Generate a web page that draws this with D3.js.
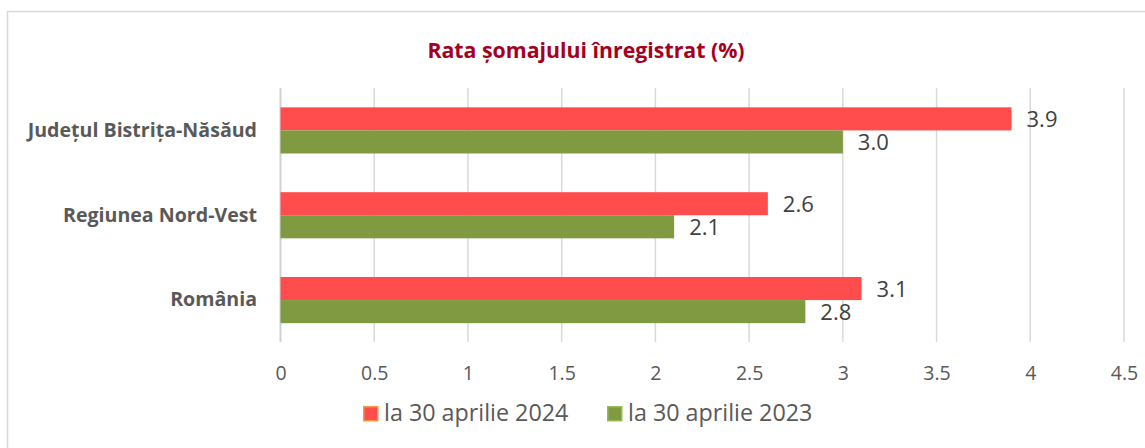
<!DOCTYPE html>
<html><head><meta charset="utf-8">
<script src="https://cdn.jsdelivr.net/npm/d3@7"></script>
<style>body{margin:0;background:#fff;} svg{display:block;font-family:"Open Sans",sans-serif;}</style>
</head><body>
<script>
const categories = ["Județul Bistrița-Năsăud", "Regiunea Nord-Vest", "România"];
const series2024 = [3.9, 2.6, 3.1];
const series2023 = [3.0, 2.1, 2.8];
const seriesNames = ["la 30 aprilie 2024", "la 30 aprilie 2023"];
const tickValues = [0, 0.5, 1, 1.5, 2, 2.5, 3, 3.5, 4, 4.5];
const title = "Rata șomajului înregistrat (%)";

const W = 1145, H = 448;
const colors = ["#FF4D4D", "#7F9A41"];
const strokes = ["#F79646", "#9BBB59"];

const svg = d3.select("body").append("svg").attr("width", W).attr("height", H);

svg.append("rect").attr("x", 7.5).attr("y", 11.5).attr("width", W + 10).attr("height", H + 10)
  .attr("fill", "none").attr("stroke", "#D9D9D9").attr("stroke-width", 1.5);

svg.append("text").attr("x", 586).attr("y", 58).attr("text-anchor", "middle")
  .attr("font-size", 21.3).attr("font-weight", "bold").attr("fill", "#A50021").text(title);

const x = d3.scaleLinear().domain([0, 4.5]).range([280.5, 1124]);
const y = d3.scaleBand().domain(categories).range([88, 342.5]).paddingInner(0.456).paddingOuter(0.228);

// gridlines
svg.append("g").selectAll("line").data(tickValues).join("line")
  .attr("x1", d => x(d)).attr("x2", d => x(d)).attr("y1", 88).attr("y2", 342)
  .attr("stroke", d => d === 0 ? "#D0D0D0" : "#D9D9D9").attr("stroke-width", d => d === 0 ? 2 : 1.5);

// x axis labels
const xAxis = d3.axisBottom(x).tickValues(tickValues).tickSize(0).tickFormat(d3.format("~g"));
const gx = svg.append("g").attr("transform", "translate(0,363)").call(xAxis);
gx.select(".domain").remove();
gx.selectAll("text").attr("font-size", 19.5).attr("fill", "#595959").attr("font-family", "Open Sans, sans-serif");

// y axis labels
const yAxis = d3.axisLeft(y).tickSize(0).tickPadding(0);
const gy = svg.append("g").attr("transform", "translate(257,0)").call(yAxis);
gy.select(".domain").remove();
gy.selectAll("text").attr("font-size", 19.6).attr("font-weight", "bold").attr("fill", "#595959")
  .attr("font-family", "Open Sans, sans-serif");

const sub = d3.scaleBand().domain([0, 1]).range([0, y.bandwidth()]);
const data = categories.map((c, i) => ({c, vals: [series2024[i], series2023[i]]}));

const groups = svg.append("g").selectAll("g").data(data).join("g")
  .attr("transform", d => `translate(0,${y(d.c)})`);
groups.selectAll("rect").data(d => d.vals.map((v, k) => ({v, k}))).join("rect")
  .attr("x", x(0)).attr("y", d => sub(d.k)).attr("width", d => x(d.v) - x(0))
  .attr("height", sub.bandwidth()).attr("fill", d => colors[d.k]);
groups.selectAll("text").data(d => d.vals.map((v, k) => ({v, k}))).join("text")
  .attr("x", d => x(d.v) + 15).attr("y", d => sub(d.k) + sub.bandwidth() / 2)
  .attr("dy", "0.38em").attr("font-size", 22).attr("fill", "#404040")
  .text(d => d3.format(".1f")(d.v));

// legend
const legendX = [363, 607];
const lg = svg.append("g").selectAll("g").data(seriesNames).join("g")
  .attr("transform", (d, i) => `translate(${legendX[i]},406)`);
lg.append("rect").attr("x", 0.75).attr("y", 0.75).attr("width", 14).attr("height", 14)
  .attr("fill", (d, i) => colors[i]).attr("stroke", (d, i) => strokes[i]).attr("stroke-width", 1.5);
lg.append("text").attr("x", 21).attr("y", 15).attr("font-size", 23.3)
  .attr("fill", "#595959").text(d => d);
</script>
</body></html>
